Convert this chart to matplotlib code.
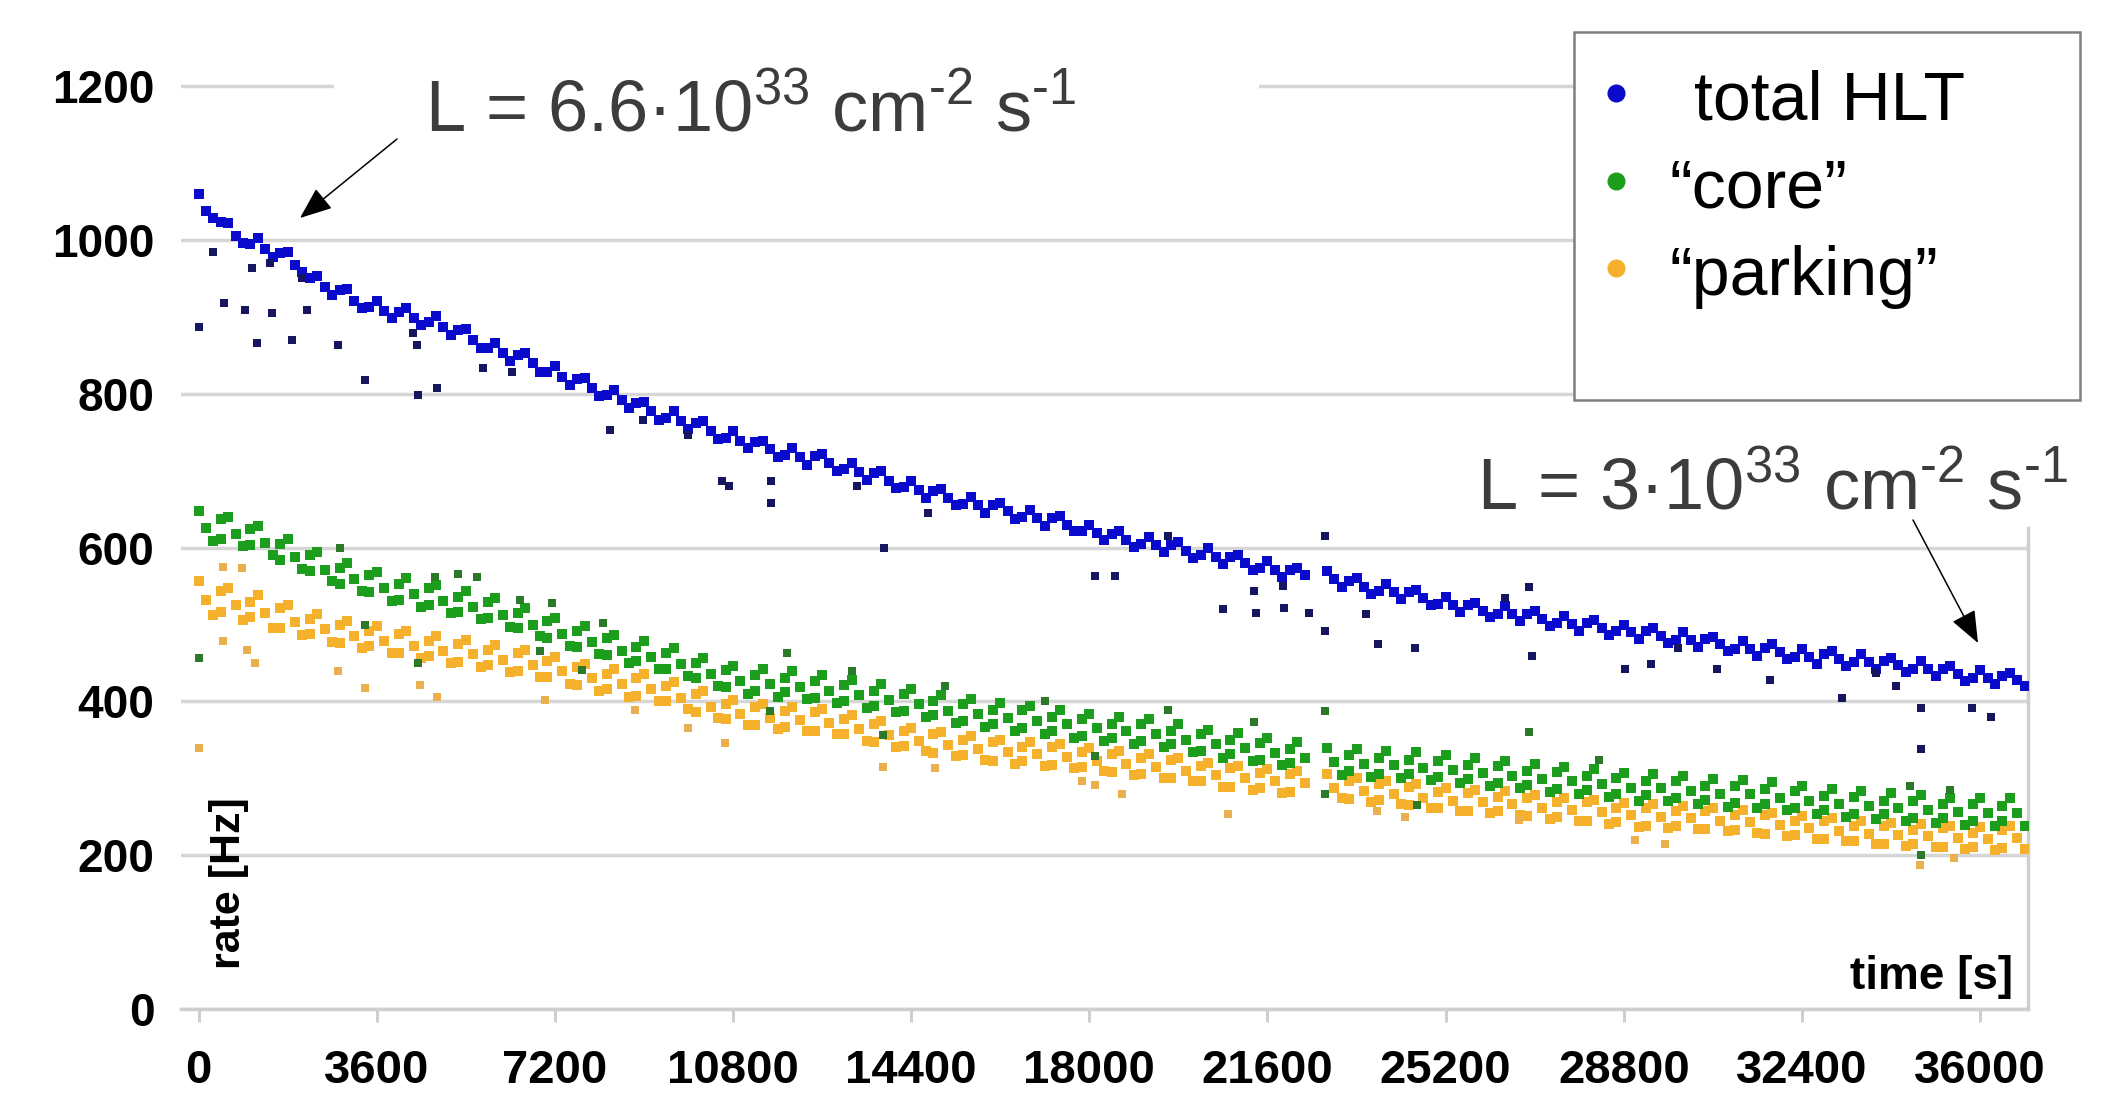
import numpy as np
import matplotlib.pyplot as plt
from matplotlib.patches import Rectangle, FancyArrowPatch
from matplotlib.lines import Line2D

plt.rcParams['font.family'] = ['Liberation Sans', 'DejaVu Sans']
plt.rcParams['mathtext.fontset'] = 'custom'
plt.rcParams['mathtext.rm'] = 'Liberation Sans'
plt.rcParams['mathtext.it'] = 'Liberation Sans:italic'
plt.rcParams['mathtext.bf'] = 'Liberation Sans:bold'

nan = np.nan
# read-off grid (s); rows are read at t, t+150, t+300 and t+450
t_grid = np.arange(0, 36601, 600)

# total HLT rate [Hz]
blue_top = [1060, 1022, 1002, 985, 953, 936, 921, 912, 901, 884, 866, 853, 836, 820, 805, 789,
            777, 764, 751, 739, 729, 722, 710, 699, 687, 676, 666, 658, 649, 641, 630, 621,
            614, 607, 599, 591, 582, 574, 570, 560, 553, 545, 536, 528, 524, 518, 511, 506,
            500, 495, 490, 484, 478, 474, 468, 465, 461, 457, 452, 446, 441, 437]
blue_mid = [1038, 1005, 988, 968, 939, 921, 908, 899, 887, 870, 853, 840, 822, 807, 792, 777,
            765, 752, 739, 728, 718, 710, 698, 687, 675, 665, 655, 647, 638, 630, 619, 610,
            603, 596, 588, 580, 571, 564, 559, 549, 542, 534, 525, 518, 514, 507, 501, 496,
            490, 485, 480, 474, 468, 464, 458, 455, 451, 447, 442, 436, 431, 428]
blue_bot = [1028, 996, 978, 958, 929, 911, 898, 889, 877, 860, 843, 829, 812, 797, 781, 766,
            754, 741, 729, 718, 708, 699, 688, 677, 665, 655, 645, 637, 628, 621, 610, 601,
            594, 587, 579, 571, 562, nan, 549, 540, 533, 525, 516, 510, 505, 498, 492, 487,
            481, 476, 471, 465, 459, 455, 449, 446, 442, 438, 433, 427, 423, 420]
blue_late = [1024, 995, 983, 950, 935, 913, 907, 893, 883, 859, 851, 829, 819, 798, 788, 769,
             762, 743, 737, 721, 719, 702, 697, 679, 674, 657, 655, 640, 638, 622, 618, 605,
             604, 590, 588, 573, 571, nan, 557, 544, 542, 527, 525, 514, 514, 502, 502, 491,
             491, 480, 481, 468, 470, 458, 461, 451, 453, 442, 442, 431, 433, nan]

# "core" rate [Hz]
core_top = [648, 640, 628, 611, 594, 580, 568, 560, 552, 543, 534, 522, 509, 498, 487, 478,
            470, 456, 446, 442, 439, 434, 428, 422, 416, 408, 403, 398, 394, 389, 384, 380,
            377, 370, 363, 359, 353, 347, 340, 338, 336, 334, 330, 326, 323, 318, 315, 312,
            307, 306, 303, 299, 298, 295, 290, 286, 283, 281, 278, 275, 274, 274]
core_mid = [625, 618, 606, 588, 571, 559, 547, 540, 531, 523, 512, 500, 488, 477, 466, 458,
            448, 435, 426, 423, 419, 414, 408, 402, 396, 388, 384, 379, 374, 370, 365, 361,
            357, 350, 344, 339, 333, 327, 321, 319, 317, 314, 311, 307, 303, 299, 296, 292,
            288, 287, 284, 280, 279, 275, 271, 267, 264, 262, 259, 256, 255, 255]
core_bot = [608, 602, 590, 572, 556, 543, 531, 523, 515, 507, 497, 485, 472, 461, 450, 442,
            433, 420, 409, 406, 403, 398, 392, 386, 380, 372, 367, 362, 358, 353, 348, 344,
            341, 334, 327, 323, 317, nan, 304, 302, 300, 298, 294, 290, 287, 282, 279, 276,
            271, 270, 267, 263, 262, 259, 254, 250, 247, 245, 242, 239, 238, 238]
core_up = [637, 624, 605, 590, 574, 564, 553, 547, 536, 529, 515, 505, 491, 483, 471, 463,
           450, 441, 434, 431, 426, 421, 413, 410, 401, 396, 389, 389, 380, 377, 371, 370,
           362, 357, 350, 346, 338, nan, 330, 327, 324, 323, 317, 316, 309, 308, 303, 300,
           296, 296, 290, 290, 286, 283, 277, 276, 271, 270, 266, 266, 264, nan]
core_low = [611, 603, 584, 569, 553, 542, 532, 526, 516, 508, 495, 483, 471, 460, 452, 442,
            430, 419, 413, 412, 405, 401, 394, 387, 382, 374, 371, 365, 362, 355, 353, 348,
            344, 336, 332, 324, 320, nan, 309, 306, 305, 302, 299, 294, 291, 286, 285, 279,
            278, 274, 272, 268, 267, 262, 259, 254, 253, 249, 248, 244, 245, nan]

# "parking" rate [Hz]
park_top = [556, 548, 538, 525, 514, 505, 498, 491, 485, 480, 473, 467, 458, 449, 442, 436,
            425, 413, 402, 396, 393, 390, 382, 374, 366, 360, 355, 350, 347, 344, 340, 335,
            331, 327, 320, 316, 312, 310, 305, 300, 297, 292, 287, 285, 283, 278, 275, 272,
            268, 266, 264, 261, 259, 255, 251, 248, 244, 242, 241, 238, 237, 238]
park_mid = [532, 525, 515, 503, 494, 485, 479, 472, 466, 461, 454, 447, 439, 430, 423, 416,
            405, 393, 384, 379, 376, 372, 364, 356, 349, 343, 338, 334, 331, 328, 323, 318,
            315, 310, 304, 300, 296, 294, 288, 284, 280, 275, 271, 269, 266, 262, 259, 256,
            252, 250, 248, 245, 243, 239, 235, 232, 228, 226, 225, 222, 221, 222]
park_bot = [512, 506, 496, 486, 477, 469, 463, 456, 450, 445, 438, 432, 422, 413, 406, 400,
            390, 378, 369, 364, 361, 357, 349, 341, 335, 329, 324, 319, 316, 313, 309, 304,
            300, 296, 289, 285, 281, nan, 274, 269, 266, 261, 257, 255, 252, 247, 244, 241,
            237, 236, 234, 231, 229, 225, 221, 218, 214, 212, 211, 208, 207, 208]
park_up = [543, 529, 521, 507, 500, 491, 488, 479, 475, 467, 463, 452, 445, 436, 431, 420,
           410, 397, 393, 387, 386, 377, 371, 362, 357, 350, 347, 341, 341, 334, 332, 326,
           324, 316, 313, 307, 306, nan, 297, 292, 289, 282, 281, 276, 275, 269, 269, 262,
           262, 257, 258, 252, 252, 245, 245, 238, 238, 233, 235, 229, 233, nan]
park_low = [516, 510, 495, 488, 476, 472, 463, 459, 451, 447, 440, 432, 421, 416, 407, 400,
            386, 377, 369, 367, 362, 357, 347, 342, 333, 330, 323, 322, 317, 315, 308, 306,
            300, 296, 289, 287, 282, nan, 273, 272, 265, 262, 257, 257, 251, 250, 245, 243,
            238, 238, 234, 233, 228, 226, 221, 219, 214, 215, 211, 211, 210, nan]

# stray points away from the bands
blue_out_t = [0, 300, 505, 940, 1075, 1175, 1445, 1480, 1885, 2085, 2185, 2825, 3365, 4340,
              4410, 4440, 4815, 5755, 6330, 8315, 8990, 9900, 10575, 10710, 11565, 11565,
              13300, 13860, 14750, 18120, 18525, 19600, 20710, 21320, 21375, 21905, 21925,
              22430, 22755, 22770, 23595, 23830, 24585, 26390, 26875, 26955, 28830, 29355,
              29905, 30680, 31760, 33210, 33900, 34305, 34805, 34810, 35835, 36220]
blue_out_v = [887, 985, 918, 909, 963, 866, 970, 905, 870, 950, 909, 864, 818, 879,
              864, 798, 808, 833, 829, 753, 766, 746, 687, 680, 687, 658,
              680, 599, 645, 563, 563, 615, 520, 544, 515, 550, 522,
              515, 615, 491, 514, 475, 470, 535, 549, 459, 442, 448,
              469, 442, 428, 404, 437, 420, 391, 338, 391, 380]
core_out_t = [0, 2860, 3365, 4440, 4780, 5250, 5620, 6500, 6900, 7140, 7745, 8180, 11550,
              11890, 13200, 13840, 15090, 17110, 18120, 19600, 21320, 22755, 22755, 24620,
              26875, 28290, 34590, 34810, 35400]
core_out_v = [456, 599, 499, 450, 562, 566, 562, 532, 465, 528, 441, 502, 387,
              463, 439, 356, 420, 401, 329, 389, 373, 388, 280, 265,
              360, 324, 290, 200, 285]
park_out_t = [0, 500, 500, 870, 975, 1140, 2825, 3365, 4475, 4815, 7000, 8820, 9900, 10640,
              13840, 14885, 17850, 18120, 18660, 20810, 23810, 24385, 26675, 29030, 29640,
              34790, 35465]
park_out_v = [339, 575, 478, 573, 467, 450, 439, 417, 421, 406, 402, 389, 365, 346,
              315, 313, 297, 291, 280, 253, 257, 250, 246, 220, 215, 187, 196]

legend_labels = ['total HLT', '\u201ccore\u201d', '\u201cparking\u201d']
xticks = list(range(0, 36001, 3600))
yticks = list(range(0, 1201, 200))

c_blue, c_green, c_orange = '#0a0acc', '#1c9e1c', '#f6b12c'

W, H = 2111, 1097
fig = plt.figure(figsize=(W / 100, H / 100), dpi=100)

def fx(px):
    return px / W

def fy(py):
    return 1 - py / H

ax = fig.add_axes([181 / W, 88 / H, 1847 / W, 992 / H])
xmax = 36968
ax.set_xlim(-354, xmax)
ax.set_ylim(0, 1290)

ms_band = 58
ms_blue = 56
ms_out = 40
park_rows = [(park_top, 0), (park_mid, 150), (park_bot, 300), (park_up, 450), (park_low, 450)]
core_rows = [(core_top, 0), (core_mid, 150), (core_bot, 300), (core_up, 450), (core_low, 450)]
blue_rows = [(blue_top, 0), (blue_mid, 150), (blue_bot, 300), (blue_late, 450)]
for vals, off in park_rows:
    ax.scatter(t_grid + off, vals, s=ms_band, marker='s', c=c_orange, linewidths=0, zorder=3)
ax.scatter(park_out_t, park_out_v, s=ms_out, marker='s', c='#eab04e', linewidths=0, zorder=3)
for vals, off in core_rows:
    ax.scatter(t_grid + off, vals, s=ms_band, marker='s', c=c_green, linewidths=0, zorder=4)
ax.scatter(core_out_t, core_out_v, s=ms_out, marker='s', c='#2a7a2a', linewidths=0, zorder=4)
for vals, off in blue_rows:
    ax.scatter(t_grid + off, vals, s=ms_blue, marker='s', c=c_blue, linewidths=0, zorder=4)
ax.scatter(blue_out_t, blue_out_v, s=ms_out, marker='s', c='#16165e', linewidths=0, zorder=4)

# axes styling
for side in ['top', 'left', 'right']:
    ax.spines[side].set_visible(False)
ax.spines['bottom'].set_color('#cfcfcf')
ax.spines['bottom'].set_linewidth(2.5)
ax.plot([xmax, xmax], [0, 625], color='#cfcfcf', lw=2.5, clip_on=False, zorder=1)
ax.set_yticks(yticks)
ax.set_yticklabels([str(v) for v in yticks], fontsize=33, fontweight='bold')
ax.set_xticks(xticks)
ax.set_xticklabels([str(v) for v in xticks], fontsize=34, fontweight='bold')
ax.tick_params(axis='y', length=0, pad=19)
ax.tick_params(axis='x', length=9.5, width=2.2, color='#cfcfcf', pad=19)
ax.grid(axis='y', color='#d6d6d6', lw=2.5)
ax.set_axisbelow(True)

ax.text(616, 52, 'rate [Hz]', rotation=90, ha='center', va='bottom',
        fontsize=31, fontweight='bold')
ax.text(36671, 26, 'time [s]', ha='right', va='baseline', fontsize=33, fontweight='bold')

# luminosity annotations
fig.add_artist(Rectangle((fx(334), fy(150)), 925 / W, 110 / H, transform=fig.transFigure,
                         fc='white', ec='none', zorder=1))
fig.text(fx(425), fy(131), r'L = 6.6·10$^{33}$ cm$^{\text{-2}}$ s$^{\text{-1}}$',
         fontsize=52, color='#3c3c3c', ha='left', va='baseline', zorder=3)
fig.text(fx(1477), fy(509), r'L = 3·10$^{33}$ cm$^{\text{-2}}$ s$^{\text{-1}}$',
         fontsize=52, color='#3c3c3c', ha='left', va='baseline', zorder=3)
for start, tip in [((397, 139), (300, 218)), ((1913, 520), (1978, 643))]:
    fig.add_artist(FancyArrowPatch(posA=(fx(start[0]), fy(start[1])),
                                   posB=(fx(tip[0]), fy(tip[1])),
                                   transform=fig.transFigure,
                                   arrowstyle='-|>,head_length=1.0,head_width=0.4',
                                   mutation_scale=20, color='black', lw=1.1,
                                   shrinkA=0, shrinkB=0, zorder=4))

# legend box
fig.add_artist(Rectangle((fx(1574), fy(400)), 506 / W, 368 / H, transform=fig.transFigure,
                         fc='white', ec='#7f7f7f', lw=1.8, zorder=2))
leg_x = [1694, 1669, 1669]
for i, (lab, col) in enumerate(zip(legend_labels, [c_blue, c_green, c_orange])):
    yc = 93 + 87.5 * i
    fig.add_artist(Line2D([fx(1616)], [fy(yc)], marker='o', ms=12, color=col, ls='none',
                          transform=fig.transFigure, zorder=3))
    fig.text(fx(leg_x[i]), fy(yc + 27), lab, fontsize=49, ha='left', va='baseline', zorder=3)

fig.savefig('out.png', dpi=100)
